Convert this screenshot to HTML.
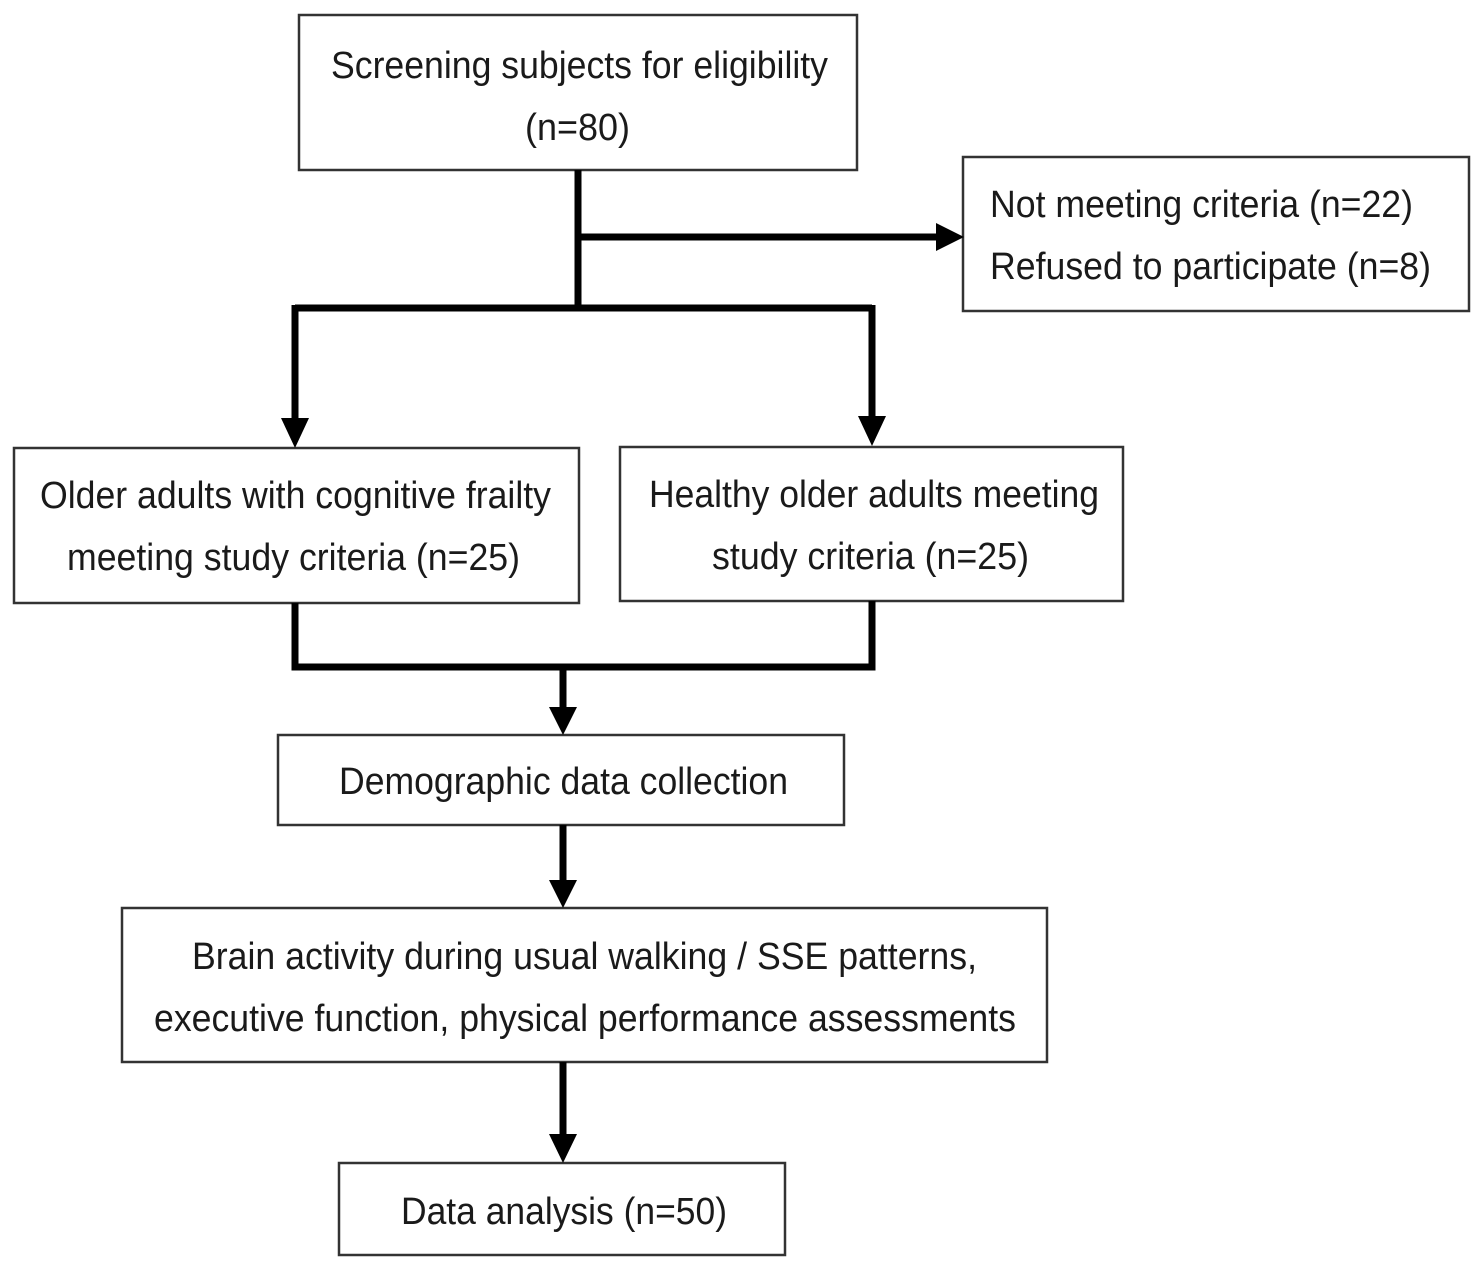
<!DOCTYPE html>
<html><head><meta charset="utf-8"><style>
html,body{margin:0;padding:0;background:#fff;}
svg{display:block}
text{font-family:"Liberation Sans",Arial,sans-serif;font-size:38px;fill:#1a1a1a}
</style></head><body>
<svg width="1477" height="1274" viewBox="0 0 1477 1274" xmlns="http://www.w3.org/2000/svg">
<g fill="#fff" stroke="#333" stroke-width="2.5">
<rect x="299" y="15" width="558" height="155"/>
<rect x="963" y="157" width="506" height="154"/>
<rect x="14" y="448" width="565" height="155"/>
<rect x="620" y="447" width="503" height="154"/>
<rect x="278" y="735" width="566" height="90"/>
<rect x="122" y="908" width="925" height="154"/>
<rect x="339" y="1163" width="446" height="92"/>
</g>
<g stroke="#000" stroke-width="7" fill="none">
<path d="M578 170 V308"/>
<path d="M578 237 H938"/>
<path d="M295 308 H872"/>
<path d="M295 305 V420"/>
<path d="M872 305 V418"/>
<path d="M295 603 V667 H872 V601"/>
<path d="M563 667 V710"/>
<path d="M563 825 V882"/>
<path d="M563 1062 V1136"/>
</g>
<g fill="#000">
<polygon points="936,223 964,237 936,251"/>
<polygon points="281,418 309,418 295,448"/>
<polygon points="858,416 886,416 872,446"/>
<polygon points="549,707 577,707 563,735"/>
<polygon points="549,880 577,880 563,908"/>
<polygon points="549,1134 577,1134 563,1163"/>
</g>
<g>
<text x="331" y="78" textLength="497" lengthAdjust="spacingAndGlyphs">Screening subjects for eligibility</text>
<text x="525" y="140" textLength="105" lengthAdjust="spacingAndGlyphs">(n=80)</text>
<text x="990" y="217" textLength="423" lengthAdjust="spacingAndGlyphs">Not meeting criteria (n=22)</text>
<text x="990" y="279" textLength="441" lengthAdjust="spacingAndGlyphs">Refused to participate (n=8)</text>
<text x="40" y="508" textLength="511" lengthAdjust="spacingAndGlyphs">Older adults with cognitive frailty</text>
<text x="67" y="570" textLength="453" lengthAdjust="spacingAndGlyphs">meeting study criteria (n=25)</text>
<text x="649" y="507" textLength="450" lengthAdjust="spacingAndGlyphs">Healthy older adults meeting</text>
<text x="712" y="569" textLength="317" lengthAdjust="spacingAndGlyphs">study criteria (n=25)</text>
<text x="339" y="794" textLength="449" lengthAdjust="spacingAndGlyphs">Demographic data collection</text>
<text x="192" y="969" textLength="785" lengthAdjust="spacingAndGlyphs">Brain activity during usual walking / SSE patterns,</text>
<text x="154" y="1031" textLength="862" lengthAdjust="spacingAndGlyphs">executive function, physical performance assessments</text>
<text x="401" y="1224" textLength="326" lengthAdjust="spacingAndGlyphs">Data analysis (n=50)</text>
</g>
</svg>
</body></html>
